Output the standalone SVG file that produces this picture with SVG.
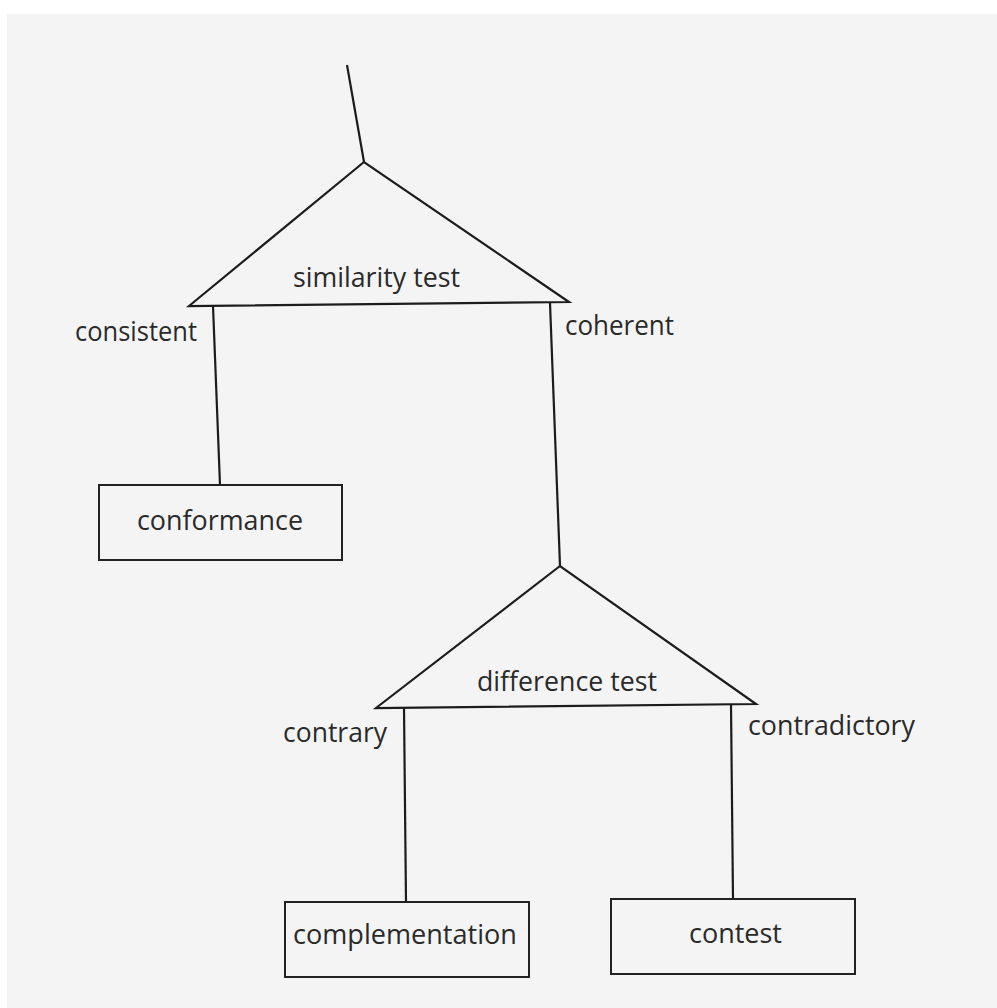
<svg xmlns="http://www.w3.org/2000/svg" width="997" height="1008" viewBox="0 0 997 1008">
<style>
.ln{fill:none;stroke:#1c1c1c;stroke-width:2.2;stroke-linejoin:miter}
.bx{fill:none;stroke:#222;stroke-width:2}
.t{font-family:"Open Sans","Noto Sans","Liberation Sans",sans-serif;font-size:27px;fill:#2a2a2a}
</style>
<rect x="0" y="0" width="997" height="1008" fill="#ffffff"/>
<rect x="7" y="14" width="990" height="994" fill="#f4f4f4"/>
<g id="connectors">
<path class="ln" d="M347,65 L364,162"/>
<path class="ln" d="M213,306 L220,485"/>
<path class="ln" d="M550,303 L560,566"/>
<path class="ln" d="M404,708 L406,902"/>
<path class="ln" d="M731,705 L733,899"/>
</g>
<g id="similarity-test">
<path class="ln" d="M364,162 L189,306 L569,302 Z"/>
<text class="t" x="293" y="287" textLength="167" lengthAdjust="spacingAndGlyphs">similarity test</text>
</g>
<g id="difference-test">
<path class="ln" d="M560,566 L376,708 L756,704 Z"/>
<text class="t" x="477" y="691" textLength="180" lengthAdjust="spacingAndGlyphs">difference test</text>
</g>
<g id="label-consistent"><text class="t" x="75" y="341" textLength="122" lengthAdjust="spacingAndGlyphs">consistent</text></g>
<g id="label-coherent"><text class="t" x="565" y="335" textLength="109" lengthAdjust="spacingAndGlyphs">coherent</text></g>
<g id="label-contrary"><text class="t" x="283" y="742" textLength="104" lengthAdjust="spacingAndGlyphs">contrary</text></g>
<g id="label-contradictory"><text class="t" x="748" y="735" textLength="167" lengthAdjust="spacingAndGlyphs">contradictory</text></g>
<g id="conformance">
<rect class="bx" x="99" y="485" width="243" height="75"/>
<text class="t" x="137" y="530" textLength="166" lengthAdjust="spacingAndGlyphs">conformance</text>
</g>
<g id="complementation">
<rect class="bx" x="285" y="902" width="244" height="75"/>
<text class="t" x="293" y="944" textLength="224" lengthAdjust="spacingAndGlyphs">complementation</text>
</g>
<g id="contest">
<rect class="bx" x="611" y="899" width="244" height="75"/>
<text class="t" x="689" y="943" textLength="93" lengthAdjust="spacingAndGlyphs">contest</text>
</g>
</svg>
